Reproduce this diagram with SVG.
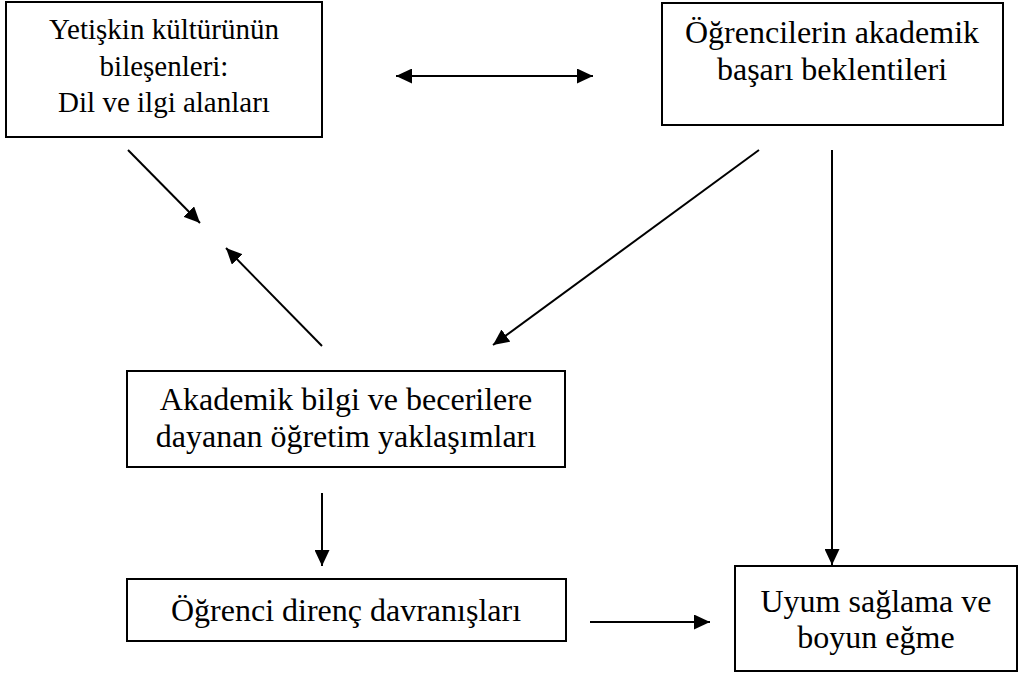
<svg xmlns="http://www.w3.org/2000/svg" width="1019" height="675" viewBox="0 0 1019 675">
  <style>
    .box { fill: #ffffff; stroke: #000000; stroke-width: 2; }
    .lbl { font-family: "Liberation Serif", "DejaVu Serif", "Noto Serif", "Times New Roman", serif; font-size: 32px; fill: #000000; text-anchor: middle; }
    .lbl-s { font-size: 29px; }
    .conn { stroke: #000000; stroke-width: 2; fill: none; marker-end: url(#head); }
  </style>
  <defs>
    <marker id="head" viewBox="0 0 16 15" refX="16" refY="7.5" markerWidth="16" markerHeight="15" markerUnits="userSpaceOnUse" orient="auto-start-reverse">
      <path d="M0,0 L16,7.5 L0,15 z" fill="#000000"/>
    </marker>
  </defs>
  <rect width="1019" height="675" fill="#ffffff"/>

  <!-- connectors -->
  <g id="connectors">
    <line class="conn" x1="396" y1="76" x2="593" y2="76" marker-start="url(#head)"/>
    <line class="conn" x1="128" y1="150" x2="200" y2="223"/>
    <line class="conn" x1="322" y1="346" x2="226" y2="248"/>
    <line class="conn" x1="759" y1="150" x2="493" y2="345"/>
    <line class="conn" x1="832" y1="150" x2="832" y2="565"/>
    <line class="conn" x1="322" y1="493" x2="322" y2="566"/>
    <line class="conn" x1="590" y1="622" x2="710" y2="622"/>
  </g>

  <!-- nodes -->
  <g font-family="Liberation Serif, DejaVu Serif, serif">
    <g id="node-yetiskin">
      <rect class="box" x="6" y="2" width="316" height="135"/>
      <text class="lbl lbl-s" x="164" y="39">Yetişkin kültürünün</text>
      <text class="lbl lbl-s" x="164" y="76">bileşenleri:</text>
      <text class="lbl lbl-s" x="164" y="112">Dil ve ilgi alanları</text>
    </g>
    <g id="node-beklenti">
      <rect class="box" x="662" y="3" width="341" height="122"/>
      <text class="lbl" x="832" y="43">Öğrencilerin akademik</text>
      <text class="lbl" x="832" y="80">başarı beklentileri</text>
    </g>
    <g id="node-yaklasim">
      <rect class="box" x="127" y="371" width="438" height="96"/>
      <text class="lbl" x="346" y="410">Akademik bilgi ve becerilere</text>
      <text class="lbl" x="346" y="447">dayanan öğretim yaklaşımları</text>
    </g>
    <g id="node-direnc">
      <rect class="box" x="127" y="579" width="439" height="62"/>
      <text class="lbl" x="346" y="621">Öğrenci direnç davranışları</text>
    </g>
    <g id="node-uyum">
      <rect class="box" x="735" y="566" width="282" height="105"/>
      <text class="lbl" x="876" y="612">Uyum sağlama ve</text>
      <text class="lbl" x="876" y="648">boyun eğme</text>
    </g>
  </g>
</svg>
